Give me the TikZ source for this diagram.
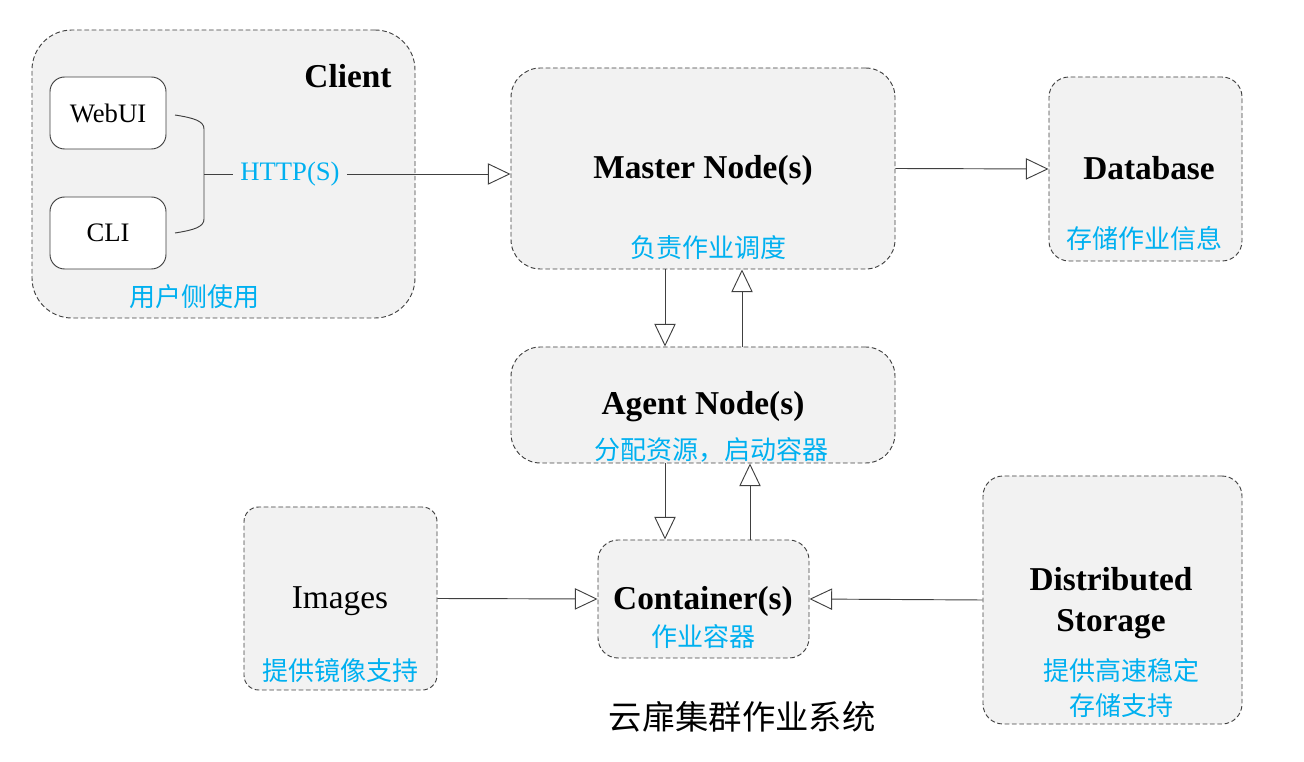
\documentclass[tikz,border=0pt]{standalone}
\usepackage{fontspec}
\setmainfont{Liberation Serif}
\newfontfamily\cjk{Noto Sans CJK SC}
\usetikzlibrary{arrows.meta, positioning}
\definecolor{boxGray}{HTML}{F2F2F2}
\definecolor{lineGray}{HTML}{404040}
\definecolor{noteBlue}{HTML}{00B0F0}

\begin{document}
\begin{tikzpicture}[x=0.75pt, y=-0.75pt,
    group/.style={rectangle, rounded corners=#1, draw=lineGray, fill=boxGray, dash pattern=on 3.5pt off 2pt, line width=0.7pt, inner sep=0pt},
    btn/.style={rectangle, rounded corners=11pt, draw=lineGray, fill=white, line width=0.7pt, minimum width=87pt, minimum height=54pt, font=\fontsize{20}{24}\selectfont},
    title/.style={inner sep=0pt, align=center, font=\fontsize{25}{30.75}\selectfont\bfseries},
    note/.style={inner sep=0pt, align=center, text=noteBlue, font=\cjk\fontsize{19.5}{26.25}\selectfont},
    wire/.style={draw=lineGray, line width=0.7pt},
    arrow/.style={wire, -{Triangle[open, length=17pt, width=16pt]}},
]
    \useasboundingbox (0,0) rectangle (1304,762);

    % groups
    \node[group=30pt, minimum width=287.25pt, minimum height=216pt] (client) at (223.5,174) {};
    \node[group=22pt, minimum width=288pt, minimum height=150.75pt] (master) at (703,168.5) {};
    \node[group=15pt, minimum width=144.75pt, minimum height=138pt] (database) at (1145.5,169) {};
    \node[group=22pt, minimum width=288pt, minimum height=87pt] (agent) at (703,405) {};
    \node[group=15pt, minimum width=158.25pt, minimum height=88.5pt] (container) at (703.5,599) {};
    \node[group=11pt, minimum width=144.75pt, minimum height=137.25pt] (images) at (340.5,598.5) {};
    \node[group=15pt, minimum width=194.25pt, minimum height=186pt] (storage) at (1112.5,600) {};

    % client side
    \node[btn] (webui) at (108,113) {WebUI};
    \node[btn] (cli) at (108,233) {CLI};
    \node[title] (clientT) at (348,76) {Client};
    \node[note] (clientN) at (194,297) {用户侧使用};
    \node[inner sep=5.25pt, text=noteBlue, font=\fontsize{20}{24}\selectfont] (http) at (290,174) {HTTP(S)};
    \coordinate (brk) at (204,174);
    \draw[wire] (175,115) .. controls (194,118) and (204,121) .. (204,129) -- (204,219) .. controls (204,227) and (194,230) .. (175,233);
    \draw[wire] (brk) -- (http);

    % labels
    \node[title] (masterT) at (703,170) {Master Node(s)};
    \node[note] (masterN) at (708,248) {负责作业调度};
    \node[title] (databaseT) at (1149,168) {Database};
    \node[note] (databaseN) at (1144,239) {存储作业信息};
    \node[title] (agentT) at (703,407) {Agent Node(s)};
    \node[note] (agentN) at (711,450) {分配资源，启动容器};
    \node[title] (containerT) at (703,601) {Container(s)};
    \node[note] (containerN) at (703,637) {作业容器};
    \node[inner sep=0pt, font=\fontsize{25}{30}\selectfont] (imagesT) at (340,601) {Images};
    \node[note] (imagesN) at (340,671) {提供镜像支持};
    \node[title] (storageT) at (1111,603) {Distributed\\Storage};
    \node[note] (storageN) at (1121,688) {提供高速稳定\\存储支持};
    \node[inner sep=0pt, font=\cjk\fontsize{25}{30}\selectfont] (caption) at (742,717) {云扉集群作业系统};

    % connectors
    \draw[arrow] (http.east) -- (http.east -| master.west);
    \draw[arrow] (master.east) -- (database.west);
    \draw[arrow] ([xshift=-28.5pt]master.south) -- ([xshift=-28.5pt]agent.north);
    \draw[arrow] ([xshift=29.25pt]agent.north) -- ([xshift=29.25pt]master.south);
    \draw[arrow] ([xshift=-28.5pt]agent.south) -- ([xshift=-28.875pt]container.north);
    \draw[arrow] ([xshift=34.875pt]container.north) -- ([xshift=35.25pt]agent.south);
    \draw[arrow] (images.east) -- (container.west);
    \draw[arrow] (storage.west) -- (container.east);
\end{tikzpicture}
\end{document}
